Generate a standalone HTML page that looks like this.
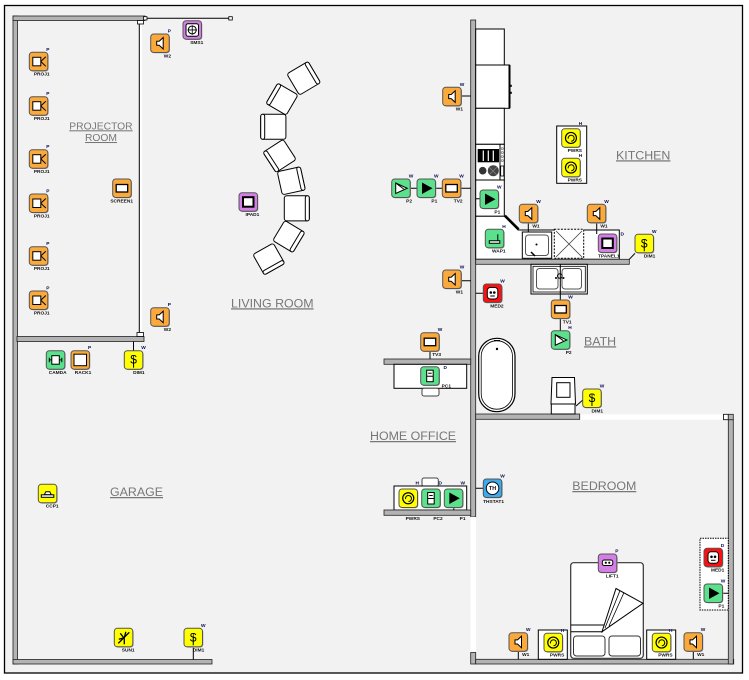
<!DOCTYPE html>
<html><head><meta charset="utf-8"><style>
html,body{margin:0;padding:0;background:#fff;}
svg{display:block;}
.w{fill:#b3b3b3;stroke:#222;stroke-width:.8}
.f{fill:#fff;stroke:#000;stroke-width:1}
.lb{font-family:"Liberation Sans",sans-serif;font-size:4.8px;font-weight:bold;fill:#111;text-anchor:end}
.sp{font-family:"Liberation Sans",sans-serif;font-size:4.8px;font-weight:bold;fill:#0a0a50}
.rm{font-family:"Liberation Sans",sans-serif;font-size:12.4px;fill:#777;text-decoration:underline}
.ln{stroke:#000;stroke-width:1;fill:none}
.dl{font-family:"Liberation Sans",sans-serif;font-size:12px;fill:#000;text-anchor:middle}
</style></head><body>
<svg width="749" height="680" viewBox="0 0 749 680" xmlns="http://www.w3.org/2000/svg">
<defs>
<g id="O"><rect x="0.8" y="0.8" width="18.5" height="18.5" rx="3" fill="#9a9a9a"/><rect width="18.5" height="18.5" rx="3" fill="#FBA93A" stroke="#555" stroke-width="1"/></g>
<g id="G"><rect x="0.8" y="0.8" width="18.5" height="18.5" rx="3" fill="#9a9a9a"/><rect width="18.5" height="18.5" rx="3" fill="#5BE08B" stroke="#555" stroke-width="1"/></g>
<g id="Y"><rect x="0.8" y="0.8" width="18.5" height="18.5" rx="3" fill="#9a9a9a"/><rect width="18.5" height="18.5" rx="3" fill="#FFFF00" stroke="#555" stroke-width="1"/></g>
<g id="U"><rect x="0.8" y="0.8" width="18.5" height="18.5" rx="3" fill="#9a9a9a"/><rect width="18.5" height="18.5" rx="3" fill="#D47FE6" stroke="#555" stroke-width="1"/></g>
<g id="R"><rect x="0.8" y="0.8" width="18.5" height="18.5" rx="3" fill="#9a9a9a"/><rect width="18.5" height="18.5" rx="3" fill="#FF1010" stroke="#555" stroke-width="1"/></g>
<g id="B"><rect x="0.8" y="0.8" width="18.5" height="18.5" rx="3" fill="#9a9a9a"/><rect width="18.5" height="18.5" rx="3" fill="#3DAAEE" stroke="#555" stroke-width="1"/></g>
<g id="proj"><rect x="3.5" y="5" width="8" height="8.5" fill="#fff" stroke="#000"/><path d="M11.5 9.2L16.5 4.5M11.5 9.2L16.5 14" stroke="#000" fill="none"/></g>
<g id="spk"><path d="M6 7.2h2.5L12.5 3.5v11.5L8.5 11.3H6z" fill="#fff" stroke="#000"/></g>
<g id="tv"><rect x="3.5" y="5.5" width="11.5" height="7.5" fill="#fff" stroke="#000" stroke-width="1.3"/></g>
<g id="rack"><rect x="3" y="3.5" width="12.5" height="11.5" fill="#fff" stroke="#000"/></g>
<g id="camda"><rect x="5.5" y="5" width="7.5" height="8.5" fill="#fff" stroke="#000"/><path d="M3 7v4.5M15.5 7v4.5M3 9.2h2.5M13 9.2h2.5" stroke="#000"/></g>
<g id="play"><path d="M5 3.5L15.5 9.25L5 15z" fill="#000"/></g>
<g id="play2"><path d="M4 4L15.5 9.25L4 14.5z" fill="#fff" stroke="#000"/><path d="M4 4L12 10" stroke="#000"/></g>
<g id="wap"><path d="M4 11.5h10.5v2.5H4z" fill="#fff" stroke="#000"/><path d="M12.5 5v6.5" stroke="#000"/></g>
<g id="pwr"><circle cx="9.25" cy="9.25" r="5.5" fill="none" stroke="#000" stroke-width="1.2"/><path d="M6.5 10a3 3 0 1 1 3 2.5" fill="none" stroke="#000"/></g>
<g id="med"><path d="M4 6.5a3 3 0 0 1 3-3h4.5a3 3 0 0 1 3 3v5.5a3 3 0 0 1-3 3H7a3 3 0 0 1-3-3z" fill="#fff" stroke="#000"/><circle cx="7.5" cy="8.5" r="1.3"/><circle cx="11" cy="8.5" r="1.3"/><path d="M7 12h4.5" stroke="#000"/></g>
<g id="ipad"><rect x="4" y="4.5" width="10.5" height="9.5" fill="#fff" stroke="#000" stroke-width="2"/></g>
<g id="sms"><rect x="3" y="3" width="12.5" height="12.5" rx="2" fill="#fff" stroke="#000"/><circle cx="9.25" cy="9.25" r="4" fill="none" stroke="#000"/><path d="M9.25 4.5v9.5M4.5 9.25h9.5" stroke="#000" stroke-width=".8"/></g>
<g id="lift"><rect x="4" y="6" width="10.5" height="5.5" rx="2" fill="#fff" stroke="#000"/><circle cx="7.5" cy="8.7" r="1.1"/><circle cx="11" cy="8.7" r="1.1"/></g>
<g id="car"><path d="M6 10.5l1.5-3h4l1.5 3z" fill="#fff" stroke="#000"/><rect x="3" y="10.5" width="12.5" height="2.5" fill="#fff" stroke="#000"/></g>
<g id="sun"><path d="M4 15L15 4M6 5l3.5 4.5M11.5 3.5l-1.5 6M4.5 11l5.5-1.5M10 10v6" stroke="#000" stroke-width="1.3" fill="none"/></g>
</defs>

<!-- outer -->
<rect x="4.5" y="5.5" width="738" height="667.5" fill="#f2f2f2" stroke="#000" stroke-width="1.3"/>

<!-- left building walls -->
<rect class="w" x="13" y="16" width="4.5" height="648"/>
<rect class="w" x="13" y="16" width="132" height="4.5"/>
<rect class="w" x="13" y="659.5" width="199" height="4.5"/>
<rect class="w" x="17" y="336.5" width="127" height="5"/>
<rect x="139" y="22" width="3" height="311" fill="#fff"/>
<line class="ln" x1="139.3" y1="22" x2="139.3" y2="333"/>
<rect x="137.5" y="20.5" width="6" height="3.5" fill="#fff" stroke="#000" stroke-width=".8"/>
<rect x="137" y="332.5" width="6.5" height="4" fill="#fff" stroke="#000" stroke-width=".8"/>
<line class="ln" x1="145" y1="18.3" x2="230" y2="18.3"/>
<rect x="143.5" y="16.7" width="3.5" height="3.3" fill="#fff" stroke="#000" stroke-width=".8"/>
<rect x="228.8" y="16.7" width="3.5" height="3.3" fill="#fff" stroke="#000" stroke-width=".8"/>

<!-- central wall -->
<rect class="w" x="470.7" y="20" width="5" height="497"/>
<rect x="470.5" y="517" width="5.5" height="135.5" fill="#fff"/>
<rect class="w" x="470.7" y="652.5" width="5" height="11.5"/>
<rect class="w" x="475.7" y="659.3" width="258" height="4.7"/>
<rect class="w" x="728.3" y="419.7" width="5" height="244.3"/>
<rect x="580" y="414.3" width="143.3" height="5.4" fill="#fff"/>
<rect x="723.5" y="414.3" width="4.8" height="5.4" fill="#fff" stroke="#000" stroke-width=".8"/>
<rect class="w" x="728.3" y="414.3" width="5" height="5.4"/>
<rect class="w" x="475.7" y="414" width="104" height="5.3"/>

<!-- kitchen cabinets -->
<rect class="f" x="475.7" y="29" width="28.6" height="36"/>
<rect class="f" x="475.7" y="65" width="33.8" height="43.3"/>
<line x1="509.5" y1="65" x2="509.5" y2="108.3" stroke="#000" stroke-width="2"/>
<rect x="510" y="84.8" width="1.8" height="2" fill="#000"/><rect x="510" y="91.8" width="1.8" height="2" fill="#000"/>
<rect class="f" x="475.7" y="108.3" width="28.6" height="36"/>
<rect class="f" x="475.7" y="144.3" width="28.6" height="35.7"/>
<rect x="477.7" y="149" width="21.3" height="13.3" fill="#000"/>
<path d="M483.3 150.5v10.5M488.3 150.5v10.5M493.3 150.5v10.5" stroke="#fff" stroke-width="1.2"/>
<circle cx="482.7" cy="170.7" r="3.8" fill="#333"/>
<circle cx="493.3" cy="170.7" r="5.5" fill="#444"/>
<path d="M489 167l8 8M497 167l-8 8" stroke="#888" stroke-width=".6"/>
<line class="ln" x1="500" y1="144.3" x2="500" y2="180"/>
<circle cx="502.2" cy="148.5" r="1" fill="none" stroke="#555" stroke-width=".6"/>
<circle cx="502.2" cy="152.5" r="1" fill="none" stroke="#555" stroke-width=".6"/>
<circle cx="502.2" cy="156.5" r="1" fill="none" stroke="#555" stroke-width=".6"/>
<circle cx="502.2" cy="160.5" r="1" fill="none" stroke="#555" stroke-width=".6"/>
<rect x="500.7" y="166" width="3" height="10" fill="#fff" stroke="#000" stroke-width=".8"/>
<rect class="f" x="475.7" y="180" width="28.6" height="36.3"/>
<path class="f" d="M475.7 216.3H504.3L518 230H619.3V259.3H475.7Z"/>
<line x1="505" y1="215.5" x2="518.7" y2="229.2" stroke="#000" stroke-width="2.2"/>
<rect class="f" x="522.3" y="232" width="29.4" height="26.3"/>
<rect x="525.5" y="235" width="23" height="20.5" rx="3" fill="#fff" stroke="#555"/>
<circle cx="536.5" cy="244.5" r="1" fill="#000"/>
<line x1="531" y1="252" x2="535" y2="256" stroke="#000" stroke-width="1.5"/>
<rect x="554.3" y="229.3" width="29.4" height="29" fill="#fff" stroke="#000" stroke-dasharray="2,1.3"/>
<path d="M556 231L582 257M582 231L556 257" stroke="#444" stroke-width=".8"/>
<rect class="w" x="475.7" y="259.3" width="153.6" height="5"/>
<!-- PWRS box -->
<rect x="556.7" y="126" width="30" height="57.3" fill="#fff" stroke="#000"/>

<!-- bath sink -->
<rect class="f" x="531" y="264.3" width="56.3" height="29.7"/>
<rect x="533" y="266.3" width="52.3" height="25.7" fill="none" stroke="#000" stroke-width=".8"/>
<rect x="536.5" y="268.5" width="21.5" height="20.5" rx="3" fill="#fff" stroke="#555"/>
<rect x="562" y="268.5" width="19.5" height="20.5" rx="3" fill="#fff" stroke="#555"/>
<circle cx="559.8" cy="276" r="2.3" fill="none" stroke="#000"/>
<circle cx="556" cy="278" r="1" fill="#000"/><circle cx="563.5" cy="278" r="1" fill="#000"/>

<!-- bathtub -->
<rect x="478.7" y="338.3" width="36.3" height="73.4" rx="18" fill="#fff" stroke="#000" stroke-width="1.2"/>
<rect x="481.2" y="340.8" width="31.3" height="68.4" rx="15.5" fill="none" stroke="#000" stroke-width=".8"/>
<circle cx="497" cy="349" r="1.2" fill="#000"/>
<path d="M494 340.5h6" stroke="#000"/>

<!-- toilet -->
<path class="f" d="M552 377.5h22.5l1 26.5h-24.5z"/>
<rect class="f" x="556.7" y="382.7" width="13.3" height="14.6"/>
<rect class="f" x="551.3" y="404" width="23.7" height="10"/>

<!-- home office desks -->
<rect class="w" x="384" y="359" width="86.7" height="5.3"/>
<rect class="f" x="394" y="364.3" width="72.7" height="24"/>
<rect x="422" y="388.3" width="17" height="7.7" rx="2" fill="#fff" stroke="#444"/>
<rect x="422" y="478" width="16.3" height="8.5" rx="2" fill="#fff" stroke="#444"/>
<rect class="f" x="394" y="486" width="72.7" height="24"/>
<rect class="w" x="384" y="510" width="86.7" height="5.3"/>

<!-- bed -->
<rect x="570.7" y="562.7" width="72.6" height="95.6" rx="3" fill="#fff" stroke="#333" stroke-width="1.2"/>
<path d="M571 625H612M571 631.7H603" stroke="#000"/>
<path class="f" d="M616 588.5L643 603.3L602 631.7Z"/>
<path d="M620 590.5L605 628M624 592.5L609 626" stroke="#000" stroke-width=".8"/>
<rect x="573.5" y="636" width="31.5" height="20" rx="3" fill="#fff" stroke="#333"/>
<rect x="609" y="636" width="31.5" height="20" rx="3" fill="#fff" stroke="#333"/>
<rect class="f" x="538.3" y="630" width="29" height="29.3"/>
<rect class="f" x="646.7" y="630" width="29" height="29.3"/>
<rect x="700" y="538.3" width="28.3" height="71.7" fill="#fff" stroke="#000" stroke-dasharray="1.5,1"/>

<!-- living room chairs -->
<g transform="translate(303.7,78.3) rotate(-30.7)"><rect x="-12.3" y="-12.3" width="24.6" height="24.6" rx="2.5" fill="#fff" stroke="#000"/><rect x="8.3" y="-12.3" width="4" height="24.6" rx="2" fill="#fff" stroke="#000"/></g>
<g transform="translate(282,99.2) rotate(30.3)"><rect x="-11.7" y="-11.7" width="23.4" height="23.4" rx="2.5" fill="#fff" stroke="#000"/><rect x="-11.7" y="-11.7" width="4" height="23.4" rx="2" fill="#fff" stroke="#000"/></g>
<g transform="translate(273.3,126.8)"><rect x="-12.6" y="-12.5" width="25.2" height="25" rx="2.5" fill="#fff" stroke="#000"/><rect x="-12.6" y="-12.5" width="4" height="25" rx="2" fill="#fff" stroke="#000"/></g>
<g transform="translate(279.6,155.9) rotate(-33)"><rect x="-12" y="-12" width="24" height="24" rx="2.5" fill="#fff" stroke="#000"/><rect x="-12" y="-12" width="4" height="24" rx="2" fill="#fff" stroke="#000"/></g>
<g transform="translate(291.3,180.8) rotate(-12.4)"><rect x="-11.8" y="-11.8" width="23.6" height="23.6" rx="2.5" fill="#fff" stroke="#000"/><rect x="7.8" y="-11.8" width="4" height="23.6" rx="2" fill="#fff" stroke="#000"/></g>
<g transform="translate(296.8,208.3)"><rect x="-12.5" y="-12.6" width="25" height="25.2" rx="2.5" fill="#fff" stroke="#000"/><rect x="8.5" y="-12.6" width="4" height="25.2" rx="2" fill="#fff" stroke="#000"/></g>
<g transform="translate(288.8,236.5) rotate(31)"><rect x="-11.7" y="-11.7" width="23.4" height="23.4" rx="2.5" fill="#fff" stroke="#000"/><rect x="7.7" y="-11.7" width="4" height="23.4" rx="2" fill="#fff" stroke="#000"/></g>
<g transform="translate(268.8,259) rotate(-29.5)"><rect x="-11.7" y="-11.7" width="23.4" height="23.4" rx="2.5" fill="#fff" stroke="#000"/><rect x="-11.7" y="7.7" width="23.4" height="4" rx="2" fill="#fff" stroke="#000"/></g>

<!-- connectors -->
<path class="ln" d="M133.5 341.5V350.7M193.3 647.7V659.5M461 96H470.7M410.3 188.3H417M435.7 188.3H442.3M461 188.3H470.7M475.7 198.7H480M528.3 223.3V232M596.7 223.3V234M629.3 259.3L635 253.3M461 280.7H470.7M475.7 293.3H483.3M560.3 264.3V300M560.3 319V330.7M430 351.7V359M576 406L584 399M453.8 507.7V510M475.7 488.3H483.3M518.3 651.7V659.3M693.3 651.7V659.3M722.7 593.3H728.3"/>

<!-- room labels -->
<text class="rm" x="69.3" y="129.3" style="font-size:10.3px">PROJECTOR</text>
<text class="rm" x="101" y="141" style="font-size:10.3px" text-anchor="middle">ROOM</text>
<text class="rm" x="231" y="307.3">LIVING ROOM</text>
<text class="rm" x="616" y="159.3">KITCHEN</text>
<text class="rm" x="584" y="345.3">BATH</text>
<text class="rm" x="370" y="440">HOME OFFICE</text>
<text class="rm" x="572.3" y="490">BEDROOM</text>
<text class="rm" x="110" y="496">GARAGE</text>

<!-- projector room icons -->
<g transform="translate(29.3,52.3)"><use href="#O"/><use href="#proj"/></g><text class="lb" x="49.6" y="75.6">PROJ1</text><text class="sp" x="46.3" y="50.8">P</text>
<g transform="translate(29.3,96.7)"><use href="#O"/><use href="#proj"/></g><text class="lb" x="49.6" y="120">PROJ1</text><text class="sp" x="46.3" y="95.2">P</text>
<g transform="translate(29.3,149.7)"><use href="#O"/><use href="#proj"/></g><text class="lb" x="49.6" y="173">PROJ1</text><text class="sp" x="46.3" y="148.2">P</text>
<g transform="translate(29.3,194)"><use href="#O"/><use href="#proj"/></g><text class="lb" x="49.6" y="217.3">PROJ1</text><text class="sp" x="46.3" y="192.5">P</text>
<g transform="translate(29.3,246.7)"><use href="#O"/><use href="#proj"/></g><text class="lb" x="49.6" y="270">PROJ1</text><text class="sp" x="46.3" y="245.2">P</text>
<g transform="translate(29.3,291)"><use href="#O"/><use href="#proj"/></g><text class="lb" x="49.6" y="314.3">PROJ1</text><text class="sp" x="46.3" y="289.5">P</text>
<g transform="translate(112.7,179)"><use href="#O"/><use href="#tv"/></g><text class="lb" x="133" y="202.3">SCREEN1</text>
<g transform="translate(150.7,34)"><use href="#O"/><use href="#spk"/></g><text class="lb" x="171" y="57.3">W2</text><text class="sp" x="167.7" y="32.5">P</text>
<g transform="translate(150.7,307.7)"><use href="#O"/><use href="#spk"/></g><text class="lb" x="171" y="331">W2</text><text class="sp" x="167.7" y="306.2">P</text>
<g transform="translate(183,20.7)"><use href="#U"/><use href="#sms"/></g><text class="lb" x="203.3" y="44">SMS1</text>
<g transform="translate(46.3,350.7)"><use href="#G"/><use href="#camda"/></g><text class="lb" x="66.6" y="374">CAMDA</text>
<g transform="translate(71,350.7)"><use href="#O"/><use href="#rack"/></g><text class="lb" x="91.3" y="374">RACK1</text><text class="sp" x="88" y="349.2">P</text>
<g transform="translate(124.3,350.7)"><use href="#Y"/><text class="dl" x="9.25" y="13">$</text><line x1="9.25" y1="9" x2="9.25" y2="17" stroke="#000"/></g><text class="lb" x="144.6" y="374">DIM1</text><text class="sp" x="141.3" y="349.2">W</text>
<g transform="translate(239,192.7)"><use href="#U"/><use href="#ipad"/></g><text class="lb" x="259.3" y="216">IPAD1</text>

<!-- garage -->
<g transform="translate(38.3,484.3)"><use href="#Y"/><use href="#car"/></g><text class="lb" x="58.6" y="507.6">CCP1</text>
<g transform="translate(114.3,628.3)"><use href="#Y"/><use href="#sun"/></g><text class="lb" x="134.6" y="651.6">SUN1</text>
<g transform="translate(184,628.3)"><use href="#Y"/><text class="dl" x="9.25" y="13">$</text><line x1="9.25" y1="9" x2="9.25" y2="17" stroke="#000"/></g><text class="lb" x="204.3" y="651.6">DIM1</text><text class="sp" x="201" y="626.8">W</text>

<!-- kitchen / living right -->
<g transform="translate(442.7,87.3)"><use href="#O"/><use href="#spk"/></g><text class="lb" x="463" y="110.6">W1</text><text class="sp" x="459.7" y="85.8">W</text>
<g transform="translate(391.7,179)"><use href="#G"/><use href="#play2"/></g><text class="lb" x="412" y="202.3">P2</text><text class="sp" x="408.7" y="177.5">W</text>
<g transform="translate(417,179)"><use href="#G"/><use href="#play"/></g><text class="lb" x="437.3" y="202.3">P1</text><text class="sp" x="434" y="177.5">W</text>
<g transform="translate(442.3,179)"><use href="#O"/><use href="#tv"/></g><text class="lb" x="462.6" y="202.3">TV2</text><text class="sp" x="459.3" y="177.5">W</text>
<g transform="translate(480,190)"><use href="#G"/><use href="#play"/></g><text class="lb" x="500.3" y="213.3">P1</text><text class="sp" x="497" y="188.5">W</text>
<g transform="translate(485.3,229.3)"><use href="#G"/><use href="#wap"/></g><text class="lb" x="505.6" y="252.6">WAP1</text><text class="sp" x="502.3" y="227.8">H</text>
<g transform="translate(519.3,204.3)"><use href="#O"/><use href="#spk"/></g><text class="lb" x="539.6" y="227.6">W1</text><text class="sp" x="536.3" y="202.8">W</text>
<g transform="translate(587.3,204.3)"><use href="#O"/><use href="#spk"/></g><text class="lb" x="607.6" y="227.6">W1</text><text class="sp" x="604.3" y="202.8">W</text>
<g transform="translate(598.3,234)"><use href="#U"/><use href="#ipad"/></g><text class="lb" x="619.5" y="257.3">TPANEL1</text><text class="sp" x="620.5" y="235.5">D</text>
<g transform="translate(561.7,128.7)"><use href="#Y"/><use href="#pwr"/></g><text class="lb" x="582" y="152">PWRS</text><text class="sp" x="578.7" y="125">H</text>
<g transform="translate(561.7,158.3)"><use href="#Y"/><use href="#pwr"/></g><text class="lb" x="582" y="181.6">PWRS</text><text class="sp" x="578.7" y="156.8">H</text>
<g transform="translate(635,234.3)"><use href="#Y"/><text class="dl" x="9.25" y="13">$</text><line x1="9.25" y1="9" x2="9.25" y2="17" stroke="#000"/></g><text class="lb" x="655.3" y="257.6">DIM1</text><text class="sp" x="652" y="232.8">W</text>
<g transform="translate(442.7,270)"><use href="#O"/><use href="#spk"/></g><text class="lb" x="463" y="293.3">W1</text><text class="sp" x="459.7" y="268.5">W</text>
<g transform="translate(483.3,284)"><use href="#R"/><use href="#med"/></g><text class="lb" x="503.6" y="307.3">MED2</text><text class="sp" x="500.3" y="282.5">W</text>
<g transform="translate(551.3,300)"><use href="#O"/><use href="#tv"/></g><text class="lb" x="571.6" y="323.3">TV1</text><text class="sp" x="568.3" y="298.5">W</text>
<g transform="translate(551.3,330.7)"><use href="#G"/><use href="#play2"/></g><text class="lb" x="571.6" y="354">P2</text><text class="sp" x="568.3" y="329.2">H</text>
<g transform="translate(420.7,332.7)"><use href="#O"/><use href="#tv"/></g><text class="lb" x="441" y="356">TV3</text><text class="sp" x="437.7" y="331.2">W</text>
<g transform="translate(420.7,366.7)"><use href="#G"/><rect x="6" y="3.5" width="6.5" height="11.5" fill="#fff" stroke="#000"/><path d="M7.5 6.5h3.5M6 9.5h6.5" stroke="#000"/></g><text class="lb" x="451" y="387.5">PC1</text><text class="sp" x="443.5" y="369">D</text>
<g transform="translate(582.7,389)"><use href="#Y"/><text class="dl" x="9.25" y="13">$</text><line x1="9.25" y1="9" x2="9.25" y2="17" stroke="#000"/></g><text class="lb" x="603" y="412.3">DIM1</text><text class="sp" x="599.7" y="387.5">W</text>

<!-- office bottom -->
<g transform="translate(399,489)"><use href="#Y"/><use href="#pwr"/></g><text class="lb" x="420" y="520">PWRS</text><text class="sp" x="415.5" y="484.5">H</text>
<g transform="translate(421.7,489)"><use href="#G"/><rect x="6" y="3.5" width="6.5" height="11.5" fill="#fff" stroke="#000"/><path d="M7.5 6.5h3.5M6 9.5h6.5" stroke="#000"/></g><text class="lb" x="442.7" y="520">PC2</text><text class="sp" x="438.5" y="484.5">D</text>
<g transform="translate(444.3,489)"><use href="#G"/><use href="#play"/></g><text class="lb" x="465.5" y="520">P1</text><text class="sp" x="460.5" y="484.5">W</text>
<g transform="translate(483.3,479)"><use href="#B"/><circle cx="9.25" cy="9.25" r="6.3" fill="#fff" stroke="#000"/><text x="9.25" y="11.2" font-family="Liberation Sans, sans-serif" font-size="5.3" font-weight="bold" text-anchor="middle">TH</text></g><text class="lb" x="504" y="503">THSTAT1</text><text class="sp" x="500.3" y="477.5">W</text>

<!-- bedroom -->
<g transform="translate(598.3,554)"><use href="#U"/><use href="#lift"/></g><text class="lb" x="618.6" y="577.3">LIFT1</text><text class="sp" x="615.3" y="552.5">P</text>
<g transform="translate(704,548.3)"><use href="#R"/><use href="#med"/></g><text class="lb" x="724.3" y="571.6">MED1</text><text class="sp" x="720.7" y="546.8">D</text>
<g transform="translate(704,584)"><use href="#G"/><use href="#play"/></g><text class="lb" x="724.3" y="607.3">P1</text><text class="sp" x="720.7" y="582.5">W</text>
<g transform="translate(509,632.7)"><use href="#O"/><use href="#spk"/></g><text class="lb" x="529.3" y="656">W1</text><text class="sp" x="526" y="631.2">W</text>
<g transform="translate(544,633.3)"><use href="#Y"/><use href="#pwr"/></g><text class="lb" x="564.3" y="656.6">PWRS</text><text class="sp" x="560.7" y="631.8">H</text>
<g transform="translate(652.3,633.3)"><use href="#Y"/><use href="#pwr"/></g><text class="lb" x="672.6" y="656.6">PWRS</text><text class="sp" x="669" y="631.8">H</text>
<g transform="translate(684,632.7)"><use href="#O"/><use href="#spk"/></g><text class="lb" x="704.3" y="656">W1</text><text class="sp" x="700.7" y="631.2">W</text>
</svg>
</body></html>
